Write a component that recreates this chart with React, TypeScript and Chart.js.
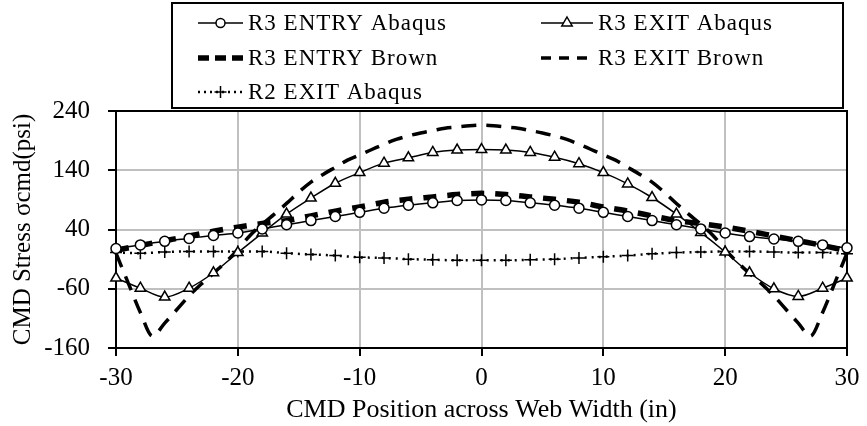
import { useEffect, useRef } from "react";
import { Chart, registerables } from "chart.js";

Chart.register(...registerables);

// Positions across the web width (in) where the Abaqus results were sampled
const positions = [
  -30, -28, -26, -24, -22, -20, -18, -16, -14, -12, -10, -8, -6, -4, -2, 0,
  2, 4, 6, 8, 10, 12, 14, 16, 18, 20, 22, 24, 26, 28, 30,
];

// Positions for the closed-form (Brown) exit curve, sampled every inch
const brownPositions = [
  -30, -29, -28, -27, -26, -25, -24, -23, -22, -21, -20, -19, -18, -17, -16, -15,
  -14, -13, -12, -11, -10, -9, -8, -7, -6, -5, -4, -3, -2, -1, 0,
  1, 2, 3, 4, 5, 6, 7, 8, 9, 10, 11, 12, 13, 14, 15,
  16, 17, 18, 19, 20, 21, 22, 23, 24, 25, 26, 27, 28, 29, 30,
];

// CMD stress (psi)
const r3EntryAbaqus = [
  8, 14, 20, 25, 30, 34, 41, 48, 55, 62, 69, 76, 81, 85, 89, 90,
  89, 85, 81, 76, 69, 62, 55, 48, 41, 34, 28, 24, 20, 14, 9,
];
const r3ExitAbaqus = [
  -42, -59, -74, -59, -33, 1, 34, 66, 93, 118, 136, 152, 161, 170, 174, 175,
  174, 170, 162, 151, 136, 117, 94, 66, 35, 2, -33, -60, -73, -59, -42,
];
const r3EntryBrown = [
  5, 13, 21, 29, 37, 44, 50, 55, 63, 71, 78, 86, 91, 95, 99, 101,
  99, 95, 91, 86, 78, 71, 63, 55, 50, 44, 37, 29, 21, 13, 4,
];
const r3ExitBrown = [
  0, -50, -100, -140, -118, -95, -72, -52, -34, -15, 6, 30, 49, 66, 84, 103,
  120, 133, 145, 157, 166, 175, 184, 192, 198, 203, 207, 211, 213, 215, 216,
  215, 213, 211, 207, 203, 198, 192, 184, 175, 166, 157, 145, 133, 120, 103,
  84, 66, 49, 30, 6, -15, -34, -52, -72, -95, -118, -140, -100, -50, 0,
];
const r2ExitAbaqus = [
  1, 0, 2, 3, 3, 3, 3, 0, -2, -4, -7, -8, -10, -11, -12, -12,
  -12, -11, -10, -8, -6, -4, -1, 1, 2, 3, 3, 2, 1, 1, -1,
];

const xTicks = [-30, -20, -10, 0, 10, 20, 30];
const yTicks = [-160, -60, 40, 140, 240];

const seriesLabels = [
  "R3 ENTRY Abaqus",
  "R3 EXIT Abaqus",
  "R3 ENTRY Brown",
  "R3 EXIT Brown",
  "R2 EXIT Abaqus",
];

const FONT = '"Liberation Serif", "Times New Roman", Times, serif';

const toPoints = (xs: number[], ys: number[]) => xs.map((x, i) => ({ x, y: ys[i] }));

type Marker = "circle" | "triangle" | "cross" | "none";

function drawMarker(ctx: CanvasRenderingContext2D, kind: Marker, x: number, y: number) {
  ctx.save();
  ctx.setLineDash([]);
  ctx.strokeStyle = "#000";
  ctx.fillStyle = "#fff";
  ctx.lineWidth = 1.5;
  ctx.beginPath();
  if (kind === "circle") {
    ctx.arc(x, y, 4.5, 0, Math.PI * 2);
    ctx.fill();
    ctx.stroke();
  } else if (kind === "triangle") {
    const r = 6;
    ctx.moveTo(x, y - r);
    ctx.lineTo(x + r * 0.866, y + r * 0.5);
    ctx.lineTo(x - r * 0.866, y + r * 0.5);
    ctx.closePath();
    ctx.fill();
    ctx.stroke();
  } else if (kind === "cross") {
    ctx.moveTo(x - 6, y);
    ctx.lineTo(x + 6, y);
    ctx.moveTo(x, y - 6);
    ctx.lineTo(x, y + 6);
    ctx.stroke();
  }
  ctx.restore();
}

const legendMarkers: Marker[] = ["circle", "triangle", "none", "none", "cross"];
// Dash patterns used for the short legend samples
const legendDashes: number[][] = [[], [], [11, 6], [10, 8], [2, 4]];

// Plot frame and the boxed two-column legend
const framePlugin = {
  id: "frameAndLegend",
  beforeDatasetsDraw(chart: any) {
    const { ctx, chartArea: a } = chart;
    ctx.save();
    ctx.strokeStyle = "#000";
    ctx.lineWidth = 2;
    ctx.strokeRect(a.left, a.top, a.right - a.left, a.bottom - a.top);
    ctx.restore();
  },
  afterDraw(chart: any) {
    const ctx: CanvasRenderingContext2D = chart.ctx;
    ctx.save();
    ctx.strokeStyle = "#000";
    ctx.lineWidth = 2;
    ctx.strokeRect(172, 3, 671, 105);

    const cols = [
      { sx: 198, sw: 45, tx: 248 },
      { sx: 541, sw: 52, tx: 598 },
    ];
    const rows = [23, 58, 92];
    const slots = [
      [0, 0],
      [1, 0],
      [0, 1],
      [1, 1],
      [0, 2],
    ];
    chart.data.datasets.forEach((ds: any, i: number) => {
      const [c, r] = slots[i];
      const col = cols[c];
      const y = rows[r];
      ctx.save();
      ctx.strokeStyle = "#000";
      ctx.lineWidth = ds.borderWidth;
      ctx.setLineDash(legendDashes[i]);
      ctx.beginPath();
      ctx.moveTo(col.sx, y);
      ctx.lineTo(col.sx + col.sw, y);
      ctx.stroke();
      ctx.restore();
      drawMarker(ctx, legendMarkers[i], col.sx + col.sw / 2, y);
      ctx.fillStyle = "#000";
      ctx.font = `23px ${FONT}`;
      (ctx as any).letterSpacing = "1px";
      ctx.textAlign = "left";
      ctx.textBaseline = "middle";
      ctx.fillText(ds.label, col.tx, y + 1);
    });
    ctx.restore();
  },
};

export default function App() {
  const canvasRef = useRef<HTMLCanvasElement | null>(null);

  useEffect(() => {
    const canvas = canvasRef.current;
    if (!canvas) return;
    const tickFont = { family: FONT, size: 25 };
    const common = {
      borderColor: "#000",
      pointBorderColor: "#000",
      pointBackgroundColor: "#fff",
      cubicInterpolationMode: "monotone" as const,
      clip: false as const,
      fill: false,
    };
    const chart = new Chart(canvas, {
      type: "line",
      data: {
        datasets: [
          {
            ...common,
            label: seriesLabels[0],
            data: toPoints(positions, r3EntryAbaqus),
            borderWidth: 1.5,
            pointStyle: "circle",
            pointRadius: 5,
            pointBorderWidth: 1.5,
          },
          {
            ...common,
            label: seriesLabels[1],
            data: toPoints(positions, r3ExitAbaqus),
            borderWidth: 1.5,
            pointStyle: "triangle",
            pointRadius: 6,
            pointBorderWidth: 1.5,
          },
          {
            ...common,
            label: seriesLabels[2],
            data: toPoints(positions, r3EntryBrown),
            borderWidth: 5.5,
            borderDash: [13, 11],
            pointRadius: 0,
          },
          {
            ...common,
            label: seriesLabels[3],
            data: toPoints(brownPositions, r3ExitBrown),
            borderWidth: 3.5,
            borderDash: [15, 10],
            pointRadius: 0,
          },
          {
            ...common,
            label: seriesLabels[4],
            data: toPoints(positions, r2ExitAbaqus),
            borderWidth: 2.5,
            borderDash: [2, 5],
            pointStyle: "cross",
            pointRadius: 6,
            pointBorderWidth: 1.5,
          },
        ],
      },
      options: {
        responsive: false,
        animation: false,
        devicePixelRatio: 1,
        layout: { padding: { top: 111, right: 20, bottom: 0, left: 0 } },
        plugins: { legend: { display: false }, tooltip: { enabled: false } },
        scales: {
          x: {
            type: "linear",
            min: -30,
            max: 30,
            afterBuildTicks: (s: any) => {
              s.ticks = xTicks.map((v) => ({ value: v }));
            },
            afterFit: (s: any) => {
              s.height = 78;
            },
            ticks: { color: "#000", font: tickFont, padding: 7, maxRotation: 0, autoSkip: false },
            grid: { color: "#c0c0c0", lineWidth: 2, tickColor: "#000", tickLength: 8, tickWidth: 2 },
            border: { color: "#000", width: 2 },
            title: {
              display: true,
              text: "CMD Position across Web Width (in)",
              color: "#000",
              font: { family: FONT, size: 26 },
              padding: { top: 0, bottom: 0 },
            },
          },
          y: {
            type: "linear",
            min: -160,
            max: 240,
            afterBuildTicks: (s: any) => {
              s.ticks = yTicks.map((v) => ({ value: v }));
            },
            afterFit: (s: any) => {
              s.width = 116;
            },
            ticks: { color: "#000", font: tickFont, padding: 18, autoSkip: false },
            grid: { color: "#c0c0c0", lineWidth: 2, tickColor: "#000", tickLength: 8, tickWidth: 2 },
            border: { color: "#000", width: 2 },
            title: {
              display: true,
              text: "CMD Stress σcmd(psi)",
              color: "#000",
              font: tickFont,
              padding: { top: 8, bottom: 0 },
            },
          },
        },
      },
      plugins: [framePlugin],
    });
    return () => chart.destroy();
  }, []);

  return (
    <canvas
      ref={canvasRef}
      width={867}
      height={426}
      style={{ position: "fixed", left: 0, top: 0, display: "block", background: "#fff" }}
    />
  );
}
